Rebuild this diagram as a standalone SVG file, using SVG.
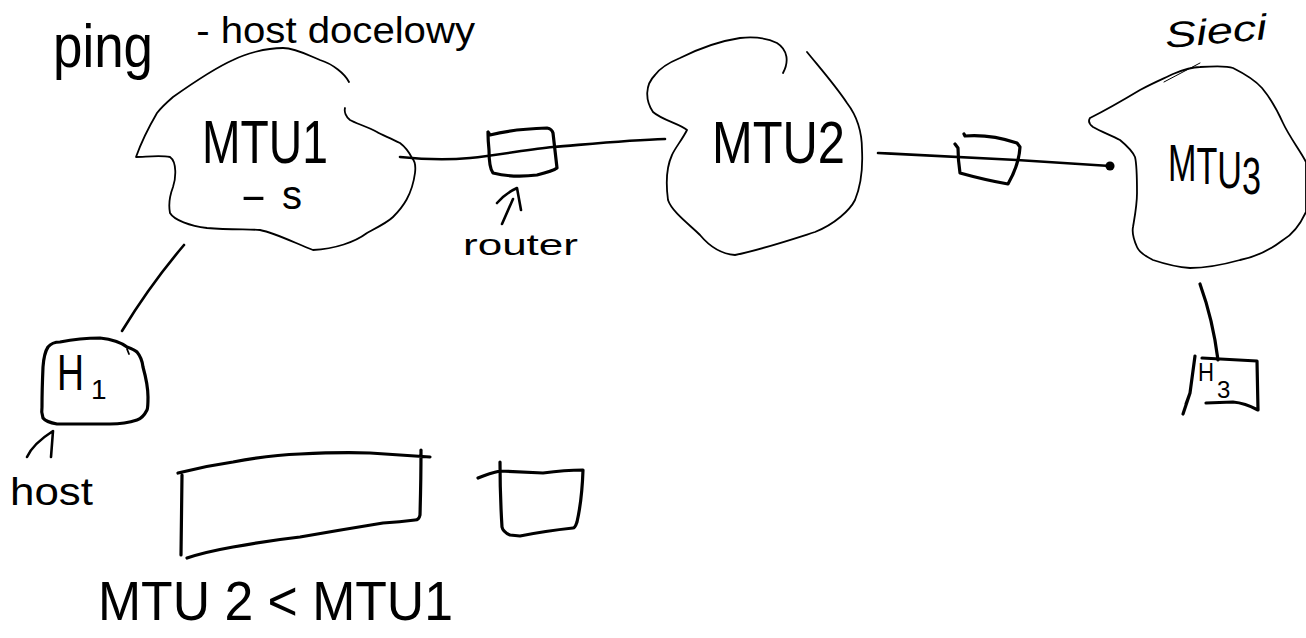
<svg xmlns="http://www.w3.org/2000/svg" width="1306" height="638" viewBox="0 0 1306 638">
  <style>
    .ink { fill: none; stroke: #000; stroke-linecap: round; stroke-linejoin: round; }
    .thin { stroke-width: 1.8; }
    .med { stroke-width: 2.6; }
    .bold { stroke-width: 3.2; }
    .hair { stroke-width: 1; }
    text { font-family: "Liberation Sans", "DejaVu Sans", sans-serif; fill: #000; }
  </style>
  <defs>
    <marker id="dot" viewBox="0 0 8 8" refX="4" refY="4" markerWidth="4" markerHeight="4" markerUnits="strokeWidth">
      <circle cx="4" cy="4" r="3.5" fill="#000"/>
    </marker>
  </defs>
  <rect width="1306" height="638" fill="#fff"/>

  <!-- heading -->
  <g id="title">
    <text><tspan x="53" y="67" font-size="62" textLength="100" lengthAdjust="spacingAndGlyphs">ping</tspan><tspan x="185" y="43" font-size="36" textLength="290" lengthAdjust="spacingAndGlyphs"> - host docelowy</tspan></text>
  </g>

  <g id="sieci-label">
    <text x="1166" y="48" font-size="36" font-style="italic" textLength="102" lengthAdjust="spacingAndGlyphs" transform="rotate(-5 1166 48)">Sieci</text>
  </g>

  <!-- connectors -->
  <g id="connectors">
    <path class="ink med" d="M 400 157 C 430 160, 447 160, 470 158 C 500 155, 530 149, 553 147 C 590 144, 630 140, 665 139"/>
    <path class="ink med" d="M 878 153 C 920 155, 960 157, 1017 160 C 1050 162, 1080 164, 1110 166" marker-end="url(#dot)"/>
    <path class="ink med" d="M 184 245 Q 150 285 122 331"/>
    <path class="ink bold" d="M 1200 284 Q 1213 320 1218 360"/>
  </g>

  <!-- network MTU1 -->
  <g id="mtu1">
    <path class="ink thin" d="M 349 82 C 345 74, 333 64, 320 60 C 308 55, 295 48, 283 48 C 265 48, 245 54, 233 60 C 215 68, 190 85, 173 97 C 165 104, 160 109, 157 113 C 150 125, 142 140, 136 157 C 145 157, 160 155, 170 157 C 177 162, 176 178, 173 187 C 170 195, 168 203, 170 213 C 174 220, 190 226, 207 228 C 230 230, 250 229, 260 230 C 275 233, 295 243, 313 250 C 335 249, 355 242, 367 233 C 380 226, 388 222, 393 217 C 403 207, 412 195, 415 173 C 416 165, 414 160, 412 158 C 408 150, 404 146, 400 143 C 390 138, 380 134, 377 132 C 368 127, 355 123, 350 120 C 346 117, 344 112, 345 108"/>
    <text x="202" y="163" font-size="62" textLength="126" lengthAdjust="spacingAndGlyphs">MTU1</text>
    <text y="209" font-size="40"><tspan x="240" textLength="27" lengthAdjust="spacingAndGlyphs">-</tspan><tspan x="282">s</tspan></text>
  </g>

  <!-- router between MTU1 and MTU2 -->
  <g id="router1">
    <path class="ink bold" d="M 488 132 L 490 135 Q 513 129 547 128 Q 552 129 553 133 Q 555 150 557 168 Q 553 171 537 175 Q 513 178 493 173 Q 489 168 489 150 Q 488 140 488 133"/>
    <path class="ink med" d="M 497 203 Q 506 193 517 188 L 521 210 M 502 224 L 513 199"/>
    <text x="463" y="255" font-size="30" textLength="115" lengthAdjust="spacingAndGlyphs">router</text>
  </g>

  <!-- network MTU2 -->
  <g id="mtu2">
    <path class="ink thin" d="M 783 73 C 789 62, 788 50, 777 43 C 765 37, 750 37, 740 38 C 720 41, 700 48, 680 58 C 668 63, 660 68, 655 75 C 645 85, 645 100, 653 112 C 662 120, 680 124, 687 130 C 682 140, 675 148, 672 155 C 666 168, 666 185, 668 200 C 672 212, 690 225, 700 235 C 710 247, 722 254, 735 255 C 760 250, 790 240, 815 232 C 835 224, 850 210, 855 200 C 860 188, 863 170, 862 150 C 862 130, 857 116, 847 103 C 835 85, 820 68, 807 52"/>
    <text x="712" y="163" font-size="60" textLength="133" lengthAdjust="spacingAndGlyphs">MTU2</text>
  </g>

  <!-- router between MTU2 and MTU3 -->
  <g id="router2">
    <path class="ink bold" d="M 964 134 L 965 136 Q 990 134 1017 143 L 1020 147 Q 1019 165 1008 184 Q 985 180 960 173 Q 958 160 958 148 L 955 144"/>
  </g>

  <!-- network MTU3 -->
  <g id="mtu3">
    <path class="ink thin" d="M 1090 118 C 1110 108, 1130 96, 1140 90 C 1155 82, 1165 78, 1173 74 C 1185 69, 1195 67, 1200 67 C 1215 66, 1228 66, 1233 68 C 1245 74, 1255 80, 1262 88 C 1272 100, 1278 112, 1283 123 C 1290 138, 1300 150, 1306 162 L 1306 212 C 1300 225, 1292 235, 1283 240 C 1270 250, 1255 257, 1240 260 C 1222 265, 1205 268, 1190 268 C 1175 267, 1162 263, 1153 260 C 1145 256, 1139 252, 1137 247 C 1133 238, 1132 232, 1133 227 C 1135 215, 1137 205, 1137 193 C 1137 180, 1137 165, 1135 157 C 1132 150, 1126 145, 1120 140 C 1110 135, 1100 131, 1093 127 C 1089 124, 1088 121, 1090 118"/>
    <path class="ink hair" d="M 1164 82 L 1200 63"/>
    <text x="1168" y="181" dy="0 3 4 6" font-size="52" textLength="93" lengthAdjust="spacingAndGlyphs">MTU3</text>
  </g>

  <!-- host H1 -->
  <g id="h1">
    <path class="ink bold" d="M 48 347 Q 52 342 60 342 Q 80 338 100 338 Q 118 340 127 347 Q 135 350 137 352 Q 142 358 143 367 Q 148 385 148 397 Q 148 408 147 410 Q 143 418 137 420 Q 125 424 110 424 L 57 424 Q 46 422 43 418 Q 41 412 42 407 Q 42 390 43 367 Q 44 353 48 347 Z"/>
    <path class="ink thin" d="M 127 349 L 129 354"/>
    <text x="57" y="390" font-size="50" textLength="27" lengthAdjust="spacingAndGlyphs">H</text>
    <text x="91" y="399" font-size="28">1</text>
    <path class="ink med" d="M 27 457 C 32 446, 42 438, 53 431 L 51 457"/>
    <text x="10" y="505" font-size="38" textLength="83" lengthAdjust="spacingAndGlyphs">host</text>
  </g>

  <!-- host H3 -->
  <g id="h3">
    <path class="ink bold" d="M 1195 356 L 1190 393 L 1183 414 M 1190 393 L 1186 404"/>
    <path class="ink bold" d="M 1202 358 L 1257 361 L 1258 410 Q 1245 403 1233 402 L 1206 403"/>
    <text x="1198" y="381" font-size="26" textLength="16" lengthAdjust="spacingAndGlyphs">H</text>
    <text x="1217" y="398" font-size="24">3</text>
  </g>

  <!-- packet sizes: large frame and small frame -->
  <g id="large-frame">
    <path class="ink bold" d="M 178 473 Q 205 466 233 462 Q 270 455 300 454 Q 340 452 370 453 Q 400 455 430 457 M 421 450 Q 421 480 420 515 Q 419 520 415 520 Q 400 522 383 523 Q 340 530 300 537 Q 265 541 233 547 Q 205 552 187 558 M 182 475 L 181 555"/>
  </g>
  <g id="small-frame">
    <path class="ink bold" d="M 478 478 Q 490 473 500 471 Q 520 472 543 473 Q 565 470 583 470 Q 582 500 577 522 Q 575 528 573 528 Q 545 531 520 536 L 510 535 Q 503 532 502 527 Q 500 495 500 462"/>
  </g>

  <g id="mtu-compare">
    <text x="98" y="620" font-size="56" textLength="355" lengthAdjust="spacingAndGlyphs">MTU 2 &lt; MTU1</text>
  </g>
</svg>
